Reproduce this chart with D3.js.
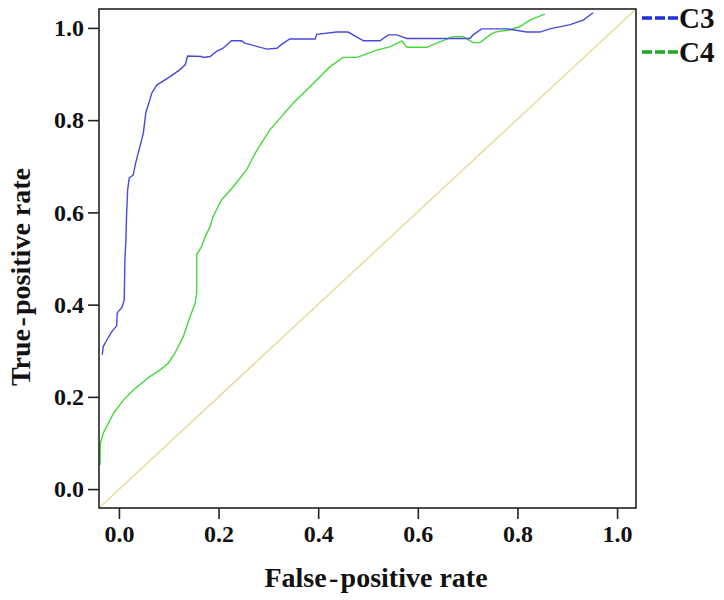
<!DOCTYPE html>
<html><head><meta charset="utf-8">
<script src="https://cdn.jsdelivr.net/npm/d3@7"></script>
<style>body{margin:0;background:#fff}</style>
</head><body>
<script>
const seriesNames = ["C3", "C4"];
const xTicks = [0.0, 0.2, 0.4, 0.6, 0.8, 1.0];
const yTicks = [0.0, 0.2, 0.4, 0.6, 0.8, 1.0];
const c3x = [-0.0335,-0.0315,-0.026,-0.0147,-0.0046,-0.0034,0.0066,0.0106,0.012,0.014,0.0155,0.0167,0.0175,0.0207,0.0287,0.0335,0.042,0.049,0.054,0.062,0.066,0.076,0.102,0.122,0.133,0.138,0.166,0.169,0.183,0.196,0.209,0.226,0.246,0.253,0.297,0.317,0.330,0.343,0.394,0.397,0.437,0.460,0.491,0.524,0.541,0.558,0.578,0.705,0.711,0.728,0.779,0.819,0.845,0.865,0.906,0.932,0.952];
const c3y = [0.291,0.309,0.320,0.341,0.354,0.382,0.395,0.410,0.497,0.540,0.599,0.627,0.649,0.675,0.681,0.707,0.742,0.772,0.816,0.844,0.859,0.876,0.894,0.909,0.920,0.939,0.938,0.936,0.938,0.949,0.956,0.972,0.972,0.967,0.954,0.956,0.967,0.976,0.976,0.986,0.991,0.991,0.972,0.972,0.985,0.985,0.977,0.977,0.985,0.998,0.998,0.991,0.991,0.998,1.007,1.017,1.033];
const c4x = [-0.038,-0.037,-0.0315,-0.025,-0.011,0.009,0.029,0.062,0.082,0.099,0.112,0.129,0.143,0.153,0.156,0.156,0.166,0.173,0.183,0.189,0.206,0.230,0.256,0.277,0.303,0.320,0.350,0.384,0.424,0.450,0.477,0.491,0.517,0.544,0.568,0.578,0.618,0.638,0.671,0.691,0.711,0.725,0.745,0.755,0.785,0.805,0.825,0.855];
const c4y = [0.052,0.100,0.121,0.135,0.164,0.193,0.215,0.244,0.258,0.273,0.294,0.330,0.374,0.403,0.424,0.508,0.526,0.547,0.569,0.591,0.627,0.656,0.692,0.735,0.779,0.800,0.837,0.873,0.916,0.936,0.936,0.941,0.952,0.959,0.972,0.958,0.958,0.967,0.981,0.981,0.968,0.968,0.985,0.991,0.996,1.003,1.017,1.030];

const W = 724, H = 600;
const svg = d3.select("body").append("svg").attr("width", W).attr("height", H);
const x = d3.scaleLinear().domain([-0.04, 1.038]).range([99, 636]);
const y = d3.scaleLinear().domain([-0.041, 1.041]).range([508, 9]);
const font = "'Liberation Serif','Times New Roman',serif";

// diagonal
svg.append("line").attr("x1", x(-0.04)).attr("y1", y(-0.041)).attr("x2", x(1.038)).attr("y2", y(1.041))
  .attr("stroke", "#e6dc98").attr("stroke-width", 1.5);

const line = d3.line().x(d => x(d[0])).y(d => y(d[1]));
svg.append("path").datum(c4x.map((v,i)=>[v,c4y[i]])).attr("d", line)
  .attr("fill","none").attr("stroke","#44d93a").attr("stroke-width",1.4);
svg.append("path").datum(c3x.map((v,i)=>[v,c3y[i]])).attr("d", line)
  .attr("fill","none").attr("stroke","#4848e2").attr("stroke-width",1.4);

// frame
svg.append("rect").attr("x", 99).attr("y", 9).attr("width", 537).attr("height", 499)
  .attr("fill","none").attr("stroke","#222").attr("stroke-width",1.6);

const xAxis = svg.append("g").attr("transform","translate(0,508)")
  .call(d3.axisBottom(x).tickValues(xTicks).tickFormat(d3.format(".1f")).tickSize(11).tickPadding(6));
const yAxis = svg.append("g").attr("transform","translate(99,0)")
  .call(d3.axisLeft(y).tickValues(yTicks).tickFormat(d3.format(".1f")).tickSize(11).tickPadding(4));
[xAxis, yAxis].forEach(g => {
  g.select(".domain").remove();
  g.selectAll(".tick line").attr("stroke","#222").attr("stroke-width",1.6);
  g.selectAll("text").attr("font-family", font).attr("font-weight","bold").attr("font-size", 24).attr("fill","#111");
});

svg.append("text").attr("x", 376).attr("y", 587).attr("text-anchor","middle")
  .attr("font-family", font).attr("font-weight","bold").attr("font-size", 28).attr("fill","#111")
  .text("False\u200A-\u200Apositive rate");
svg.append("text").attr("transform","translate(30,277) rotate(-90)").attr("text-anchor","middle")
  .attr("font-family", font).attr("font-weight","bold").attr("font-size", 28).attr("fill","#111")
  .text("True\u200A-\u200Apositive rate");

// legend
const legColors = ["#1f2fdc", "#20a820"];
seriesNames.forEach((n, i) => {
  const yy = 18 + i * 34;
  svg.append("line").attr("x1", 642).attr("x2", 678).attr("y1", yy).attr("y2", yy)
    .attr("stroke", legColors[i]).attr("stroke-width", 3.6).attr("stroke-dasharray", "10,3");
  svg.append("text").attr("x", 679).attr("y", yy + 10).attr("font-family", font).attr("font-weight","bold")
    .attr("font-size", 29).attr("fill","#111").text(n);
});
</script>
</body></html>
